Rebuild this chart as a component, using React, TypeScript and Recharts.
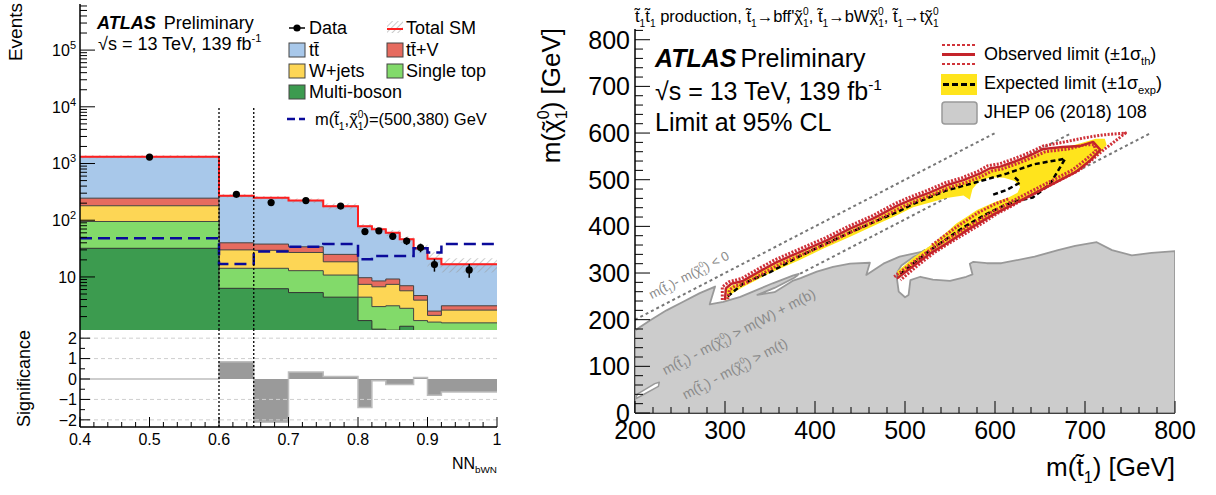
import React from 'react';
import { ComposedChart, Area, Line, Scatter, ErrorBar, XAxis, YAxis, ReferenceLine } from 'recharts';

const FONT = '"Liberation Sans", Arial, Helvetica, sans-serif';

// ---- left: NN_bWN distribution (stacked tops per bin) ----
const binEdges = [0.4, 0.6, 0.65, 0.7, 0.75, 0.8, 0.82, 0.84, 0.86, 0.88, 0.9, 0.92, 1.0];
const totalSM = [1320, 270, 250, 222, 176, 78, 69, 60, 46, 32, 21, 16.7];
const topTtV = [245, 40, 38, 34, 25, 9.7, 8.5, 9.2, 7.0, 4.7, 2.5, 3.1];
const topWjets = [180, 30, 29.5, 27, 18.5, 7.4, 6.7, 7.4, 5.7, 3.9, 2.1, 2.6];
const topSingleTop = [95, 14.2, 14.2, 12.9, 10.8, 4.4, 3.0, 3.1, 2.8, 1.7, 1.6, 1.55];
const topMultiBoson = [32, 6.3, 6.2, 5.3, 4.4, 1.7, 1.2, 1.15, 1.35, 1.0, 1.0, 1.0];
const relUnc = [0.06, 0.07, 0.07, 0.09, 0.12, 0.1, 0.1, 0.12, 0.14, 0.18, 0.3, 0.28];
const signal = [48, 17, 28, 34, 38, 20.5, 23.4, 23.4, 23.4, 32, 27, 38];
const significance = [0, 0.85, -2.12, 0.34, 0.12, -1.4, -0.08, -0.27, -0.27, 0.08, -0.8, -0.63];

const dataX = [0.5, 0.625, 0.675, 0.725, 0.775, 0.81, 0.83, 0.85, 0.87, 0.89, 0.91, 0.96];
const dataY = [1300, 286, 205, 222, 178, 63, 65, 52, 43, 33, 16.5, 13.3];
const dataErr = [36, 17, 14, 15, 13, 8, 8, 7.2, 6.5, 5.7, 4.1, 3.6];

const cutLines = [0.6, 0.65];
const sigGrid = [-2, -1, 1, 2];

// ---- right: exclusion limits in (m(stop), m(LSP)) [GeV] ----
const prevExcl = [
  [200, 0], [200, 177], [217, 199], [235, 220], [253, 238], [272, 257], [289, 271], [283, 233], [298, 238],
  [317, 249], [331, 260], [353, 278], [376, 295], [382, 298], [377, 290], [355, 268], [336, 253], [355, 259],
  [375, 283], [384, 289], [402, 303], [420, 313], [439, 320], [461, 322], [457, 296], [476, 320], [494, 335],
  [517, 345], [526, 349], [509, 334], [496, 316], [491, 300], [491, 288], [493, 260], [500, 248], [504, 253],
  [506, 285], [517, 292], [531, 286], [550, 283], [568, 292], [575, 297], [572, 320], [576, 324], [591, 321],
  [607, 321], [644, 335], [670, 349], [689, 358], [713, 366], [730, 349], [752, 338], [774, 343], [800, 347],
  [800, 0], [200, 0],
];
const prevHole = [[200, 30], [203, 41], [222, 63], [227, 66], [226, 57], [207, 37], [200, 30]];

const expBand = [
  [302, 240], [302, 265], [308, 274], [320, 281], [339, 302], [357, 320], [383, 342], [413, 367], [439, 392],
  [465, 414], [491, 441], [509, 456], [528, 470], [546, 485], [565, 496], [583, 510], [594, 521], [606, 525],
  [622, 536], [639, 549], [654, 562], [680, 570], [698, 580], [712, 588], [722, 588], [724, 575], [718, 560],
  [705, 538], [690, 519], [668, 497], [645, 474], [622, 451], [613, 442], [598, 427], [583, 409], [565, 389],
  [546, 366], [528, 345], [510, 319], [493, 291], [491, 303], [510, 334], [531, 363], [545, 385], [557, 406],
  [570, 422], [580, 435], [600, 452], [615, 462], [625, 472], [628, 485], [622, 497], [610, 504], [595, 505],
  [582, 496], [575, 480], [572, 457], [565, 466], [546, 461], [528, 451], [509, 441], [490, 423], [472, 407],
  [439, 378], [410, 353], [383, 328], [350, 300], [320, 270], [308, 256], [303, 246], [302, 240],
];
const expLine = [
  [303, 250], [320, 277], [350, 302], [383, 336], [410, 361], [439, 387], [465, 409], [494, 433], [509, 448],
  [546, 477], [580, 495], [613, 513], [643, 533], [678, 545], [661, 490], [642, 462], [622, 453], [609, 444],
  [591, 427], [565, 398], [528, 349], [498, 303], [492, 292],
];
const expPocket = [[598, 468], [613, 478], [628, 494], [622, 505]];
const obsLine = [
  [300, 242], [301, 267], [307, 277], [320, 283], [339, 304], [357, 323], [383, 345], [413, 370], [439, 395],
  [465, 417], [491, 444], [509, 459], [528, 473], [546, 488], [565, 499], [583, 513], [594, 524], [606, 528],
  [622, 539], [639, 552], [654, 566], [675, 570], [694, 572], [709, 581], [717, 564], [705, 540], [690, 517],
  [668, 495], [645, 472], [622, 449], [613, 440], [598, 425], [583, 408], [565, 387], [546, 363], [528, 342],
  [510, 316], [491, 288],
];
const obsUp = [
  [297, 242], [297, 270], [304, 281], [318, 288], [337, 309], [355, 328], [381, 350], [411, 375], [437, 400],
  [463, 422], [489, 449], [507, 464], [526, 478], [544, 493], [563, 504], [581, 518], [592, 530], [605, 534],
  [621, 545], [638, 558], [653, 572], [680, 582], [700, 590], [720, 596], [745, 600], [735, 585], [722, 566],
  [708, 543], [694, 521], [672, 499], [649, 476], [626, 452], [617, 442], [602, 427], [587, 408], [569, 387],
  [550, 365], [532, 343], [514, 316], [495, 285],
];
const obsDown = [
  [303, 244], [305, 264], [311, 272], [323, 278], [342, 299], [360, 318], [386, 340], [416, 365], [442, 390],
  [468, 412], [494, 439], [512, 454], [531, 468], [549, 483], [568, 494], [586, 508], [597, 519], [608, 523],
  [624, 534], [641, 547], [656, 560], [682, 566], [700, 575], [710, 575], [712, 562], [700, 542], [686, 521],
  [665, 500], [642, 477], [619, 454], [610, 444], [595, 429], [580, 411], [562, 390], [543, 368], [525, 346],
  [507, 320], [488, 292],
];
const obsInner = [[530, 360], [546, 383], [562, 405], [582, 430], [600, 448], [616, 460]];

// kinematic boundaries: [x0, y0, x1, y1]
const kinLines = [[200, 200, 600, 600], [200, 115, 685, 600], [200, 27, 773, 600]];

// ---- ticks ----
const steps = (a: number, b: number, s: number) => {
  const r: number[] = [];
  for (let v = a; v <= b + 1e-9; v += s) r.push(Math.round(v * 1e6) / 1e6);
  return r;
};
const nnMajor = [0.4, 0.5, 0.6, 0.7, 0.8, 0.9, 1.0];
const nnTicks = steps(0.4, 1.0, 0.02);
const logMajor = [10, 100, 1000, 10000, 100000];
const logTicks: number[] = [];
for (let d = 1; d <= 1e5; d *= 10) for (let m = 1; m <= 9; m++) if (m * d >= 2 && m * d <= 6.5e5) logTicks.push(m * d);
const sigMajor = [-2, -1, 0, 1, 2];
const sigTicks = steps(-2, 2, 0.5);
const stopMajor = [200, 300, 400, 500, 600, 700, 800];
const stopTicks = steps(200, 800, 20);
const lspMajor = [0, 100, 200, 300, 400, 500, 600, 700, 800];
const lspTicks = steps(0, 820, 20);

const C = {
  tt: '#a8c8ea', ttv: '#e66b5f', wjets: '#fdd655', single: '#82da6a', multi: '#3c9b4f',
  sm: '#ff1f1f', sig: '#0a0a9a', yellow: '#ffe41c', red: '#c4232a', gray: '#cccccc', grayLine: '#999999',
};

const histRows = binEdges.map((x, k) => {
  const i = Math.min(k, binEdges.length - 2);
  return {
    x,
    total: totalSM[i], ttv: topTtV[i], wjets: topWjets[i], single: topSingleTop[i], multi: topMultiBoson[i],
    band: [totalSM[i] * (1 - relUnc[i]), totalSM[i] * (1 + relUnc[i])],
    sig: signal[i], z: significance[i],
  };
});
const dataPts = dataX.map((x, i) => ({ x, y: dataY[i], err: dataErr[i] }));
const pts = (a: number[][]) => a.map(([x, y]) => ({ x, y }));

// ---- text helpers (sub/superscripts, tildes) ----
type Seg = string | { sub?: string; sup?: string; tl?: string };
function Rich({ segs, fs }: { segs: Seg[]; fs: number }) {
  const nodes: React.ReactNode[] = [];
  const sm = fs * 0.62;
  let off = 0;
  let pdx = 0;
  let k = 0;
  const push = (txt: string, size: number, dy: number, dx = 0) => {
    nodes.push(<tspan key={k++} fontSize={size} dy={dy} dx={dx + pdx}>{txt}</tspan>);
    pdx = 0;
  };
  segs.forEach((s) => {
    if (typeof s === 'string') {
      push(s, fs, -off);
      off = 0;
    } else if (s.tl) {
      push(s.tl, fs, -off);
      off = 0;
      push('\u02DC', fs, 0, -fs * 0.42);
      pdx = fs * 0.09;
    } else if (s.sub && s.sup) {
      push(s.sub, sm, fs * 0.28 - off);
      push(s.sup, sm, -fs * 0.7, -sm * 0.56 * s.sub.length);
      off = fs * 0.28 - fs * 0.7;
    } else if (s.sub) {
      push(s.sub, sm, fs * 0.28 - off);
      off = fs * 0.28;
    } else if (s.sup) {
      push(s.sup, sm, -fs * 0.42 - off);
      off = -fs * 0.42;
    }
  });
  return <>{nodes}</>;
}
const STOP: Seg[] = ['t\u0303', { sub: '1' }];
const CHI: Seg[] = [{ tl: '\u03c7' }, { sub: '1', sup: '0' }];

type Side = 'bottom' | 'top' | 'left' | 'right';
const tickMaker = (side: Side, majors: number[], majLen: number, minLen: number,
  label?: (v: number) => React.ReactNode, fs = 16, gap = 6) => (props: any) => {
  const { x, y, payload } = props;
  const v = payload.value;
  const major = majors.some((m) => Math.abs(m - v) <= 1e-6 * Math.max(1, Math.abs(m)));
  const len = major ? majLen : minLen;
  const d = side === 'bottom' ? [0, -len] : side === 'top' ? [0, len] : side === 'left' ? [len, 0] : [-len, 0];
  return (
    <g>
      <line x1={x} y1={y} x2={x + d[0]} y2={y + d[1]} stroke="#000" strokeWidth={1} />
      {major && label && side === 'bottom' && (
        <text x={x} y={y + gap + fs * 0.72} textAnchor="middle" fontSize={fs} fontFamily={FONT} fill="#000">{label(v)}</text>
      )}
      {major && label && side === 'left' && (
        <text x={x - gap} y={y + fs * 0.36} textAnchor="end" fontSize={fs} fontFamily={FONT} fill="#000">{label(v)}</text>
      )}
    </g>
  );
};
const logLabel = (v: number) => {
  const e = Math.round(Math.log10(v));
  return e === 1 ? '10' : <>10<tspan dy={-7} fontSize={11}>{e}</tspan></>;
};
const nnLabel = (v: number) => String(Number(v.toFixed(2)));
const sigLabel = (v: number) => (v < 0 ? '\u2212' + Math.abs(v) : String(v));
const frame = { stroke: '#000', strokeWidth: 1.5 };
const noDot = () => null;

const MainPlot = () => (
  <ComposedChart width={505} height={330} margin={{ top: 4, right: 8, bottom: 0, left: 0 }} style={{ fontFamily: FONT }}>
    <defs>
      <pattern id="hatch" width="5" height="5" patternUnits="userSpaceOnUse" patternTransform="rotate(45)">
        <line x1="0" y1="0" x2="0" y2="5" stroke="#9a9a9a" strokeWidth="1" />
      </pattern>
    </defs>
    <XAxis dataKey="x" type="number" domain={[0.4, 1]} allowDataOverflow ticks={nnTicks} interval={0} height={0}
      tickSize={0} tickMargin={0} tickLine={false} axisLine={frame} tick={tickMaker('bottom', nnMajor, 9, 5)} />
    <XAxis xAxisId="top" orientation="top" type="number" domain={[0.4, 1]} allowDataOverflow ticks={nnTicks} interval={0}
      height={0} tickSize={0} tickMargin={0} tickLine={false} axisLine={frame} tick={tickMaker('top', nnMajor, 9, 5)} />
    <YAxis scale="log" type="number" domain={[1.16, 6.5e5]} allowDataOverflow ticks={logTicks} interval={0} width={80}
      tickSize={0} tickMargin={0} tickLine={false} axisLine={frame} tick={tickMaker('left', logMajor, 15, 7, logLabel, 16, 4)} />
    <YAxis yAxisId="right" orientation="right" scale="log" type="number" domain={[1.16, 6.5e5]} allowDataOverflow
      ticks={logTicks} interval={0} width={0} tickSize={0} tickMargin={0} tickLine={false} axisLine={frame}
      tick={tickMaker('right', logMajor, 15, 7)} />
    <Area data={histRows} dataKey="total" type="stepAfter" baseValue="dataMin" fill={C.tt} fillOpacity={1} stroke="#444" strokeWidth={1} isAnimationActive={false} />
    <Area data={histRows} dataKey="ttv" type="stepAfter" baseValue="dataMin" fill={C.ttv} fillOpacity={1} stroke="#444" strokeWidth={1} isAnimationActive={false} />
    <Area data={histRows} dataKey="wjets" type="stepAfter" baseValue="dataMin" fill={C.wjets} fillOpacity={1} stroke="#444" strokeWidth={1} isAnimationActive={false} />
    <Area data={histRows} dataKey="single" type="stepAfter" baseValue="dataMin" fill={C.single} fillOpacity={1} stroke="#444" strokeWidth={1} isAnimationActive={false} />
    <Area data={histRows} dataKey="multi" type="stepAfter" baseValue="dataMin" fill={C.multi} fillOpacity={1} stroke="#333" strokeWidth={1} isAnimationActive={false} />
    <Area data={histRows} dataKey="band" type="stepAfter" fill="url(#hatch)" fillOpacity={1} stroke="none" isAnimationActive={false} />
    <Line data={histRows} dataKey="total" type="stepAfter" stroke={C.sm} strokeWidth={2} dot={false} isAnimationActive={false} />
    <Line data={histRows} dataKey="sig" type="stepAfter" stroke={C.sig} strokeWidth={2.5} strokeDasharray="12 6" dot={false} isAnimationActive={false} />
    {cutLines.map((c) => (
      <ReferenceLine key={c} segment={[{ x: c, y: 1.16 }, { x: c, y: 1e4 }]} stroke="#000" strokeWidth={1.3} strokeDasharray="2 2" />
    ))}
    <Scatter data={dataPts} dataKey="y" fill="#000" isAnimationActive={false}
      shape={(p: any) => <circle cx={p.cx} cy={p.cy} r={3.6} fill="#000" />}>
      <ErrorBar dataKey="err" direction="y" width={0} stroke="#000" strokeWidth={1.5} />
    </Scatter>
  </ComposedChart>
);

const RatioPlot = () => (
  <ComposedChart width={505} height={165} margin={{ top: 0, right: 8, bottom: 0, left: 0 }} style={{ fontFamily: FONT }}>
    <XAxis dataKey="x" type="number" domain={[0.4, 1]} allowDataOverflow ticks={nnTicks} interval={0} height={68}
      tickSize={0} tickMargin={0} tickLine={false} axisLine={frame} tick={tickMaker('bottom', nnMajor, 10, 5, nnLabel, 16, 6)} />
    <XAxis xAxisId="top" orientation="top" type="number" domain={[0.4, 1]} allowDataOverflow ticks={nnTicks} interval={0}
      height={0} tickSize={0} tickMargin={0} tickLine={false} axisLine={frame} tick={tickMaker('top', nnMajor, 10, 5)} />
    <YAxis type="number" domain={[-2.35, 2.4]} allowDataOverflow ticks={sigTicks} interval={0} width={80}
      tickSize={0} tickMargin={0} tickLine={false} axisLine={frame} tick={tickMaker('left', sigMajor, 10, 5, sigLabel, 16, 3)} />
    <YAxis yAxisId="right" orientation="right" type="number" domain={[-2.35, 2.4]} allowDataOverflow ticks={sigTicks}
      interval={0} width={0} tickSize={0} tickMargin={0} tickLine={false} axisLine={frame} tick={tickMaker('right', sigMajor, 10, 5)} />
    {sigGrid.map((g) => (
      <ReferenceLine key={g} y={g} stroke="#cfcfcf" strokeDasharray="4 3" />
    ))}
    <Area data={histRows} dataKey="z" type="stepAfter" baseValue={0} fill="#9a9a9a" fillOpacity={1} stroke="#bdbdbd" strokeWidth={1.5} isAnimationActive={false} />
    {cutLines.map((c) => (
      <ReferenceLine key={c} x={c} stroke="#000" strokeWidth={1.3} strokeDasharray="2 2" />
    ))}
  </ComposedChart>
);

const poly = (fill: string, stroke: string, w = 1.5, dash?: string) => ({ fill, stroke, strokeWidth: w, strokeDasharray: dash, strokeLinejoin: 'round' });

const LimitPlot = () => (
  <ComposedChart width={696} height={495} margin={{ top: 29, right: 41, bottom: 0, left: 0 }} style={{ fontFamily: FONT }}>
    <XAxis dataKey="x" type="number" domain={[200, 800]} allowDataOverflow ticks={stopTicks} interval={0} height={82}
      tickSize={0} tickMargin={0} tickLine={false} axisLine={frame} tick={tickMaker('bottom', stopMajor, 12, 6, String, 25, 8)} />
    <XAxis xAxisId="top" orientation="top" type="number" domain={[200, 800]} allowDataOverflow ticks={stopTicks} interval={0}
      height={0} tickSize={0} tickMargin={0} tickLine={false} axisLine={frame} tick={tickMaker('top', stopMajor, 12, 6)} />
    <YAxis type="number" domain={[0, 823]} allowDataOverflow ticks={lspTicks} interval={0} width={115}
      tickSize={0} tickMargin={0} tickLine={false} axisLine={frame} tick={tickMaker('left', lspMajor, 15, 8, String, 25, 5)} />
    <YAxis yAxisId="right" orientation="right" type="number" domain={[0, 823]} allowDataOverflow ticks={lspTicks} interval={0}
      width={0} tickSize={0} tickMargin={0} tickLine={false} axisLine={frame} tick={tickMaker('right', lspMajor, 15, 8)} />
    <Scatter data={pts(prevExcl)} dataKey="y" line={poly(C.gray, C.grayLine, 1.8)} shape={noDot} isAnimationActive={false} />
    <Scatter data={pts(prevHole)} dataKey="y" line={poly('#ffffff', C.grayLine, 1.5)} shape={noDot} isAnimationActive={false} />
    <Scatter data={pts(expBand)} dataKey="y" line={poly(C.yellow, 'none', 0)} shape={noDot} isAnimationActive={false} />
    {kinLines.map(([x0, y0, x1, y1], i) => (
      <ReferenceLine key={i} segment={[{ x: x0, y: y0 }, { x: x1, y: y1 }]} stroke="#777" strokeWidth={2} strokeDasharray="3 3" />
    ))}
    <Scatter data={pts(expLine)} dataKey="y" line={poly('none', '#000', 2.5, '5 3')} shape={noDot} isAnimationActive={false} />
    <Scatter data={pts(expPocket)} dataKey="y" line={poly('none', '#000', 2.5, '5 3')} shape={noDot} isAnimationActive={false} />
    <Scatter data={pts(obsUp)} dataKey="y" line={poly('none', '#cf3038', 3, '2 1.5')} shape={noDot} isAnimationActive={false} />
    <Scatter data={pts(obsDown)} dataKey="y" line={poly('none', '#cf3038', 3, '2 1.5')} shape={noDot} isAnimationActive={false} />
    <Scatter data={pts(obsInner)} dataKey="y" line={poly('none', '#cf3038', 3, '2 1.5')} shape={noDot} isAnimationActive={false} />
    <Scatter data={pts(obsLine)} dataKey="y" line={poly('none', C.red, 2.5)} shape={noDot} isAnimationActive={false} />
  </ComposedChart>
);

const Overlay = () => {
  const t = { fontFamily: FONT, fill: '#000' };
  const box = (x: number, y: number, fill: string) => <rect x={x} y={y} width={16} height={14} fill={fill} stroke="#444" strokeWidth={1} />;
  const kin = { fontFamily: FONT, fill: '#8a8a8a', textAnchor: 'middle' as const };
  return (
    <svg width={1216} height={495} style={{ position: 'absolute', left: 0, top: 0, pointerEvents: 'none' }}>
      <defs>
        <pattern id="hatchL" width="4" height="4" patternUnits="userSpaceOnUse" patternTransform="rotate(45)">
          <line x1="0" y1="0" x2="0" y2="4" stroke="#9a9a9a" strokeWidth="1" />
        </pattern>
      </defs>
      {/* left panel */}
      <text {...t} x={22} y={3} fontSize={19} textAnchor="end" transform="rotate(-90 22 3)">Events</text>
      <text {...t} x={30} y={330} fontSize={18} textAnchor="end" transform="rotate(-90 30 330)">Significance</text>
      <text {...t} x={497} y={469} textAnchor="end"><Rich fs={16} segs={['NN', { sub: 'bWN' }]} /></text>
      <text {...t} x={97} y={29} fontSize={18}>
        <tspan fontWeight="bold" fontStyle="italic">ATLAS</tspan><tspan dx={8}>Preliminary</tspan>
      </text>
      <text {...t} x={98} y={50}><Rich fs={18} segs={['\u221As = 13 TeV, 139 fb', { sup: '-1' }]} /></text>

      <line x1={289} y1={28} x2={305} y2={28} stroke="#000" strokeWidth={1.5} />
      <circle cx={297} cy={28} r={3.6} fill="#000" />
      <text {...t} x={309} y={34} fontSize={18}>Data</text>
      <rect x={387} y={21} width={16} height={12} fill="url(#hatchL)" />
      <line x1={387} y1={29} x2={403} y2={29} stroke={C.sm} strokeWidth={2} />
      <text {...t} x={406} y={34} fontSize={18}>Total SM</text>
      {box(289, 43, C.tt)}
      <text {...t} x={309} y={56} fontSize={18}>t{'t\u0304'}</text>
      {box(387, 43, C.ttv)}
      <text {...t} x={406} y={56} fontSize={18}>t{'t\u0304'}+V</text>
      {box(289, 64, C.wjets)}
      <text {...t} x={309} y={77} fontSize={18}>W+jets</text>
      {box(387, 64, C.single)}
      <text {...t} x={406} y={77} fontSize={18}>Single top</text>
      {box(289, 85, C.multi)}
      <text {...t} x={309} y={98} fontSize={18}>Multi-boson</text>
      <line x1={287} y1={119} x2={305} y2={119} stroke={C.sig} strokeWidth={2.5} strokeDasharray="8 4" />
      <text {...t} x={315} y={125}><Rich fs={16.5} segs={['m(', ...STOP, ',', ...CHI, ')=(500,380) GeV']} /></text>

      {/* right panel */}
      <text {...t} x={635} y={22}>
        <Rich fs={16.5} segs={[...STOP, ...STOP, ' production, ', ...STOP, '\u2192bff\'', ...CHI, ', ', ...STOP, '\u2192bW', ...CHI, ', ', ...STOP, '\u2192t', ...CHI]} />
      </text>
      <text {...t} x={655} y={67} fontSize={25}>
        <tspan fontWeight="bold" fontStyle="italic">ATLAS</tspan><tspan dx={4}>Preliminary</tspan>
      </text>
      <text {...t} x={655} y={100}><Rich fs={25} segs={['\u221As = 13 TeV, 139 fb', { sup: '-1' }]} /></text>
      <text {...t} x={655} y={131} fontSize={25}>Limit at 95% CL</text>

      <line x1={942} y1={45} x2={975} y2={45} stroke="#d0343a" strokeWidth={2} strokeDasharray="3 2" />
      <line x1={942} y1={54.5} x2={975} y2={54.5} stroke={C.red} strokeWidth={3} />
      <line x1={942} y1={64} x2={975} y2={64} stroke="#d0343a" strokeWidth={2} strokeDasharray="3 2" />
      <text {...t} x={984} y={60}><Rich fs={18} segs={['Observed limit (\u00B11\u03C3', { sub: 'th' }, ')']} /></text>
      <rect x={941} y={74} width={36} height={21} fill={C.yellow} />
      <line x1={943} y1={84.5} x2={975} y2={84.5} stroke="#000" strokeWidth={3} strokeDasharray="6 3" />
      <text {...t} x={984} y={89}><Rich fs={18} segs={['Expected limit (\u00B11\u03C3', { sub: 'exp' }, ')']} /></text>
      <rect x={942} y={102} width={35} height={22} rx={3} fill={C.gray} stroke={C.grayLine} strokeWidth={1.5} />
      <text {...t} x={984} y={118} fontSize={18}>JHEP 06 (2018) 108</text>

      <text {...kin} x={691} y={279} transform="rotate(-27.4 691 279)"><Rich fs={13} segs={['m(', ...STOP, ')- m(', ...CHI, ') < 0']} /></text>
      <text {...kin} x={741} y={336} transform="rotate(-27.4 741 336)"><Rich fs={14} segs={['m(', ...STOP, ') - m(', ...CHI, ') > m(W) + m(b)']} /></text>
      <text {...kin} x={737} y={373} transform="rotate(-27.4 737 373)"><Rich fs={14} segs={['m(', ...STOP, ') - m(', ...CHI, ') > m(t)']} /></text>

      <text {...t} x={560} y={28} textAnchor="end" transform="rotate(-90 560 28)">
        <Rich fs={26} segs={['m(', ...CHI, ')  [GeV]']} />
      </text>
      <text {...t} x={1175} y={476} textAnchor="end"><Rich fs={26} segs={['m(', ...STOP, ') [GeV]']} /></text>
    </svg>
  );
};

export default function App() {
  return (
    <div style={{ position: 'absolute', left: 0, top: 0, width: 1216, height: 495, background: '#fff', fontFamily: FONT }}>
      <div style={{ position: 'absolute', left: 0, top: 0 }}><MainPlot /></div>
      <div style={{ position: 'absolute', left: 0, top: 330 }}><RatioPlot /></div>
      <div style={{ position: 'absolute', left: 520, top: 0 }}><LimitPlot /></div>
      <Overlay />
    </div>
  );
}
